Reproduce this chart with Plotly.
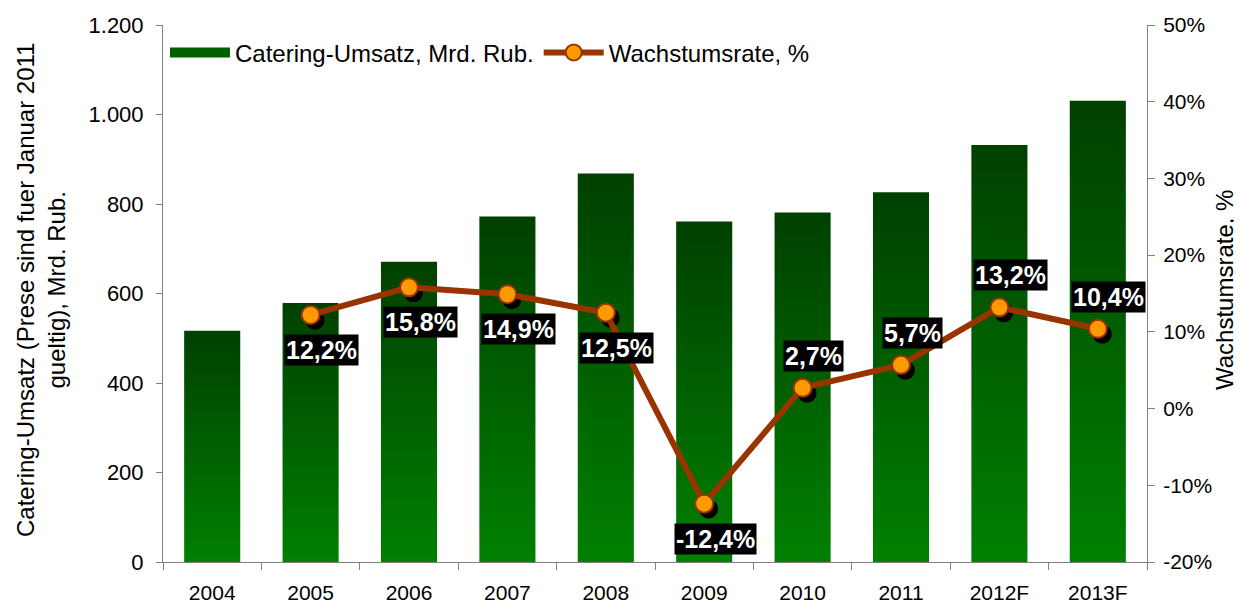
import plotly.graph_objects as go

years = ["2004", "2005", "2006", "2007", "2008", "2009", "2010", "2011", "2012F", "2013F"]
revenue = [517, 579, 671, 772, 868, 761, 781, 826, 932, 1031]
growth = [None, 12.2, 15.8, 14.9, 12.5, -12.4, 2.7, 5.7, 13.2, 10.4]
growth_labels = [None, "12,2%", "15,8%", "14,9%", "12,5%", "-12,4%", "2,7%", "5,7%", "13,2%", "10,4%"]
label_side = [None, "below", "below", "below", "below", "below", "above", "above", "above", "above"]

FONT = "Liberation Sans, Arial, sans-serif"
half = 0.285

fig = go.Figure()

for i, v in enumerate(revenue):
    fig.add_trace(go.Scatter(
        x=[i - half, i + half, i + half, i - half, i - half],
        y=[0, 0, v, v, 0],
        mode="lines", fill="toself", line=dict(width=0),
        fillgradient=dict(type="vertical",
                          colorscale=[[0, "#008000"], [1, "#004000"]]),
        showlegend=False, hoverinfo="skip",
    ))

# legend entry for the bars
fig.add_trace(go.Scatter(
    x=[None], y=[None], mode="lines", line=dict(color="#006000", width=16),
    name="Catering-Umsatz, Mrd. Rub.", legendrank=1,
))

gx = [i for i, g in enumerate(growth) if g is not None]
gy = [g for g in growth if g is not None]

# marker shadows
fig.add_trace(go.Scatter(
    x=[x + 0.045 for x in gx], y=[y - 0.7 for y in gy], yaxis="y2",
    mode="markers", marker=dict(size=19, color="black"),
    showlegend=False, hoverinfo="skip",
))

fig.add_trace(go.Scatter(
    x=gx, y=gy, yaxis="y2", mode="lines+markers",
    line=dict(color="#993300", width=6),
    marker=dict(size=18, color="#FF9900", line=dict(color="#993300", width=2)),
    name="Wachstumsrate, %", legendrank=2,
))

for i, g in enumerate(growth):
    if g is None:
        continue
    fig.add_annotation(
        x=i, y=g, yref="y2", text="<b>%s</b>" % growth_labels[i],
        showarrow=False, bgcolor="black",
        font=dict(color="white", size=25, family=FONT),
        yshift=-35 if label_side[i] == "below" else 32, xshift=11,
        borderpad=1,
    )

fig.add_annotation(
    x=-0.124, y=0.5065, xref="paper", yref="paper", textangle=-90,
    text="Catering-Umsatz (Prese sind fuer Januar 2011<br>gueltig), Mrd. Rub.",
    showarrow=False, font=dict(size=24, family=FONT), xanchor="center", yanchor="middle",
)
fig.add_annotation(
    x=1.0783, y=0.5065, xref="paper", yref="paper", textangle=-90,
    text="Wachstumsrate, %",
    showarrow=False, font=dict(size=24, family=FONT), xanchor="center", yanchor="middle",
)

fig.update_layout(
    width=1234, height=596,
    margin=dict(l=155, r=95, t=17, b=42, autoexpand=False),
    plot_bgcolor="white", paper_bgcolor="white",
    font=dict(family=FONT, size=21, color="black"),
    showlegend=True,
    legend=dict(orientation="h", x=0.002, y=0.99, xanchor="left", yanchor="top",
                font=dict(size=24), bgcolor="rgba(0,0,0,0)", itemwidth=60,
                tracegroupgap=0),
    xaxis=dict(
        range=[-0.5, 9.5], tickmode="array", tickvals=list(range(len(years))),
        ticktext=years, ticks="", showline=True, linecolor="#808080", linewidth=1,
        showgrid=False, zeroline=False, tickfont=dict(size=21), automargin=False,
        ticklabelstandoff=12,
        minor=dict(tickmode="linear", tick0=-0.5, dtick=1, ticks="outside",
                   ticklen=7, tickcolor="#808080", showgrid=False),
    ),
    yaxis=dict(
        range=[0, 1200], tickmode="array", tickvals=[0, 200, 400, 600, 800, 1000, 1200],
        ticktext=["0", "200", "400", "600", "800", "1.000", "1.200"],
        ticks="outside", ticklen=6, tickcolor="#808080", automargin=False,
        showline=True, linecolor="#808080", showgrid=False, zeroline=False,
        tickfont=dict(size=22), ticklabelstandoff=8,
    ),
    yaxis2=dict(
        overlaying="y", side="right", range=[-20, 50], automargin=False,
        tickmode="array", tickvals=[-20, -10, 0, 10, 20, 30, 40, 50],
        ticktext=["-20%", "-10%", "0%", "10%", "20%", "30%", "40%", "50%"],
        ticks="outside", ticklen=7, tickcolor="#808080",
        showline=True, linecolor="#808080", showgrid=False, zeroline=False,
        tickfont=dict(size=21), ticklabelstandoff=4,
    ),
)

fig.write_html("out.html")
